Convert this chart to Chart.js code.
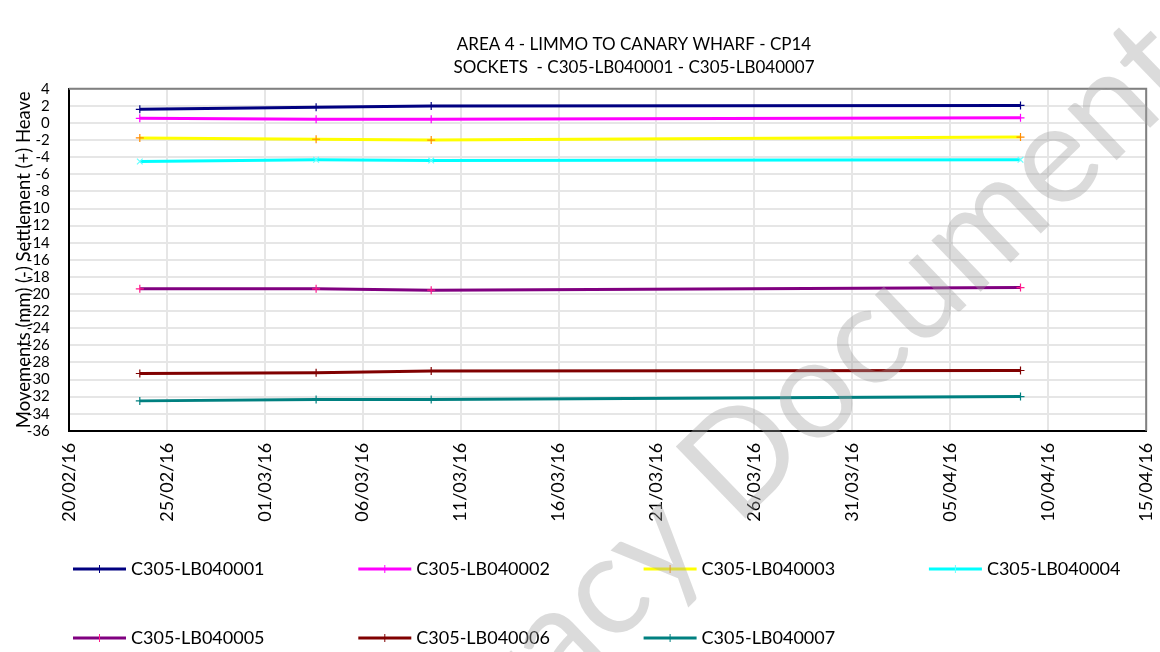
<!DOCTYPE html>
<html>
<head>
<meta charset="utf-8">
<script src="https://cdn.jsdelivr.net/npm/chart.js@4.4.1/dist/chart.umd.min.js"></script>
<style>
  body { margin: 0; background: #fff; }
  #wrap { width: 1160px; height: 652px; position: relative; }
</style>
</head>
<body>
<div id="wrap"><canvas id="settlement-chart"></canvas></div>
<script>
const titleLines = ["AREA 4 - LIMMO TO CANARY WHARF - CP14", "SOCKETS  - C305-LB040001 - C305-LB040007"];
const yAxisTitle = "Movements (mm) (-) Settlement (+) Heave";

// survey dates (UTC)
const startDate = "2016-02-20T00:00Z";
const surveyDates = ["2016-02-23T15:00Z", "2016-03-03T15:00Z", "2016-03-09T12:00Z", "2016-04-08T14:00Z"];

const seriesNames = ["C305-LB040001", "C305-LB040002", "C305-LB040003", "C305-LB040004",
  "C305-LB040005", "C305-LB040006", "C305-LB040007"];

const lb040001 = [1.6, 1.85, 2.0, 2.05];
const lb040002 = [0.55, 0.45, 0.45, 0.6];
const lb040003 = [-1.75, -1.9, -2.0, -1.65];
const lb040004 = [-4.5, -4.3, -4.4, -4.3];
const lb040005 = [-19.4, -19.4, -19.55, -19.25];
const lb040006 = [-29.3, -29.2, -29.0, -28.95];
const lb040007 = [-32.5, -32.35, -32.35, -32.0];

const lineColors = ["#000080", "#ff00ff", "#ffff00", "#00ffff", "#800080", "#800000", "#008080"];
const markerColors = ["#000080", "#ff00ff", "#ff8c00", "#66ffff", "#ff1a8c", "#800000", "#008080"];

const FONT = "Lato, 'Open Sans', 'Liberation Sans', sans-serif";
const DAY = 86400000;
const t0 = Date.parse(startDate);
const dayNums = surveyDates.map(d => (Date.parse(d) - t0) / DAY);

function fmtDay(v) {
  const d = new Date(t0 + v * DAY);
  const dd = String(d.getUTCDate()).padStart(2, "0");
  const mm = String(d.getUTCMonth() + 1).padStart(2, "0");
  const yy = String(d.getUTCFullYear()).slice(2);
  return dd + "/" + mm + "/" + yy;
}

const allValues = [lb040001, lb040002, lb040003, lb040004, lb040005, lb040006, lb040007];

const datasets = allValues.map((vals, i) => ({
  label: seriesNames[i],
  data: vals.map((v, j) => ({ x: dayNums[j], y: v })),
  borderColor: lineColors[i],
  backgroundColor: lineColors[i],
  pointBorderColor: markerColors[i],
  pointStyle: i === 3 ? "crossRot" : "cross",
  pointRadius: 4,
  pointBorderWidth: 1.2,
  borderWidth: 3,
  tension: 0,
}));

// two line title, centred a bit right of the canvas middle like the original
const titleBlock = {
  id: "titleBlock",
  afterDraw(chart) {
    const ctx = chart.ctx;
    ctx.save();
    ctx.font = "17px " + FONT;
    ctx.fillStyle = "#000";
    ctx.textAlign = "center";
    ctx.textBaseline = "middle";
    ctx.fillText(titleLines[0], 634, 45);
    ctx.fillText(titleLines[1], 634, 68);
    ctx.restore();
  },
};

// top and right frame lines
const framePlugin = {
  id: "frame",
  beforeDatasetsDraw(chart) {
    const { ctx, chartArea: a } = chart;
    ctx.save();
    ctx.strokeStyle = "#808080";
    ctx.lineWidth = 2;
    ctx.beginPath();
    ctx.moveTo(a.left, a.top);
    ctx.lineTo(a.right, a.top);
    ctx.lineTo(a.right, a.bottom);
    ctx.stroke();
    ctx.restore();
  },
};

// legend in fixed columns, like the original
const gridLegend = {
  id: "gridLegend",
  afterDraw(chart) {
    const ctx = chart.ctx;
    ctx.save();
    ctx.font = "18px " + FONT;
    ctx.textBaseline = "middle";
    chart.data.datasets.forEach((ds, i) => {
      const x = 73 + (i % 4) * 285.3;
      const y = i < 4 ? 569 : 638;
      ctx.strokeStyle = ds.borderColor;
      ctx.lineWidth = 3;
      ctx.beginPath();
      ctx.moveTo(x, y);
      ctx.lineTo(x + 53, y);
      ctx.stroke();
      ctx.strokeStyle = ds.pointBorderColor;
      ctx.lineWidth = 1;
      ctx.beginPath();
      ctx.moveTo(x + 26.5, y - 4);
      ctx.lineTo(x + 26.5, y + 4);
      ctx.stroke();
      ctx.fillStyle = "#000";
      ctx.fillText(ds.label, x + 58, y);
    });
    ctx.restore();
  },
};

// "Legacy Document" watermark, anchored at the left edge of the "D"
const watermark = {
  id: "watermark",
  afterDraw(chart) {
    const ctx = chart.ctx;
    ctx.save();
    ctx.translate(705, 495);
    ctx.rotate(-44 * Math.PI / 180);
    ctx.font = "140px " + FONT;
    ctx.fillStyle = "rgba(160,160,160,0.38)";
    ctx.textBaseline = "middle";
    const lead = ctx.measureText("Legacy ").width;
    ctx.fillText("Legacy Document", -lead, 0);
    ctx.restore();
  },
};

new Chart(document.getElementById("settlement-chart"), {
  type: "line",
  data: { datasets },
  options: {
    responsive: true,
    maintainAspectRatio: false,
    animation: false,
    layout: { padding: { left: 0, right: 13.8, top: 88.8, bottom: 129.2 } },
    plugins: {
      legend: { display: false },
      tooltip: { enabled: false },
      title: { display: false },
    },
    scales: {
      x: {
        type: "linear",
        min: 0,
        max: 55,
        afterFit(scale) {
          scale.height = 92;
          scale.paddingLeft = 0;
          scale.paddingRight = 0;
        },
        grid: { color: "#e6e6e6", lineWidth: 2, drawTicks: false },
        border: { color: "#000", width: 2 },
        ticks: {
          stepSize: 5,
          autoSkip: false,
          maxRotation: 90,
          minRotation: 90,
          padding: 12,
          color: "#000",
          font: { family: FONT, size: 18 },
          callback: v => fmtDay(v),
        },
      },
      y: {
        min: -36,
        max: 4,
        afterFit(scale) {
          scale.width = 68.8;
          scale.paddingTop = 0;
          scale.paddingBottom = 0;
        },
        grid: { color: "#e6e6e6", lineWidth: 2, drawTicks: false },
        border: { color: "#000", width: 2 },
        title: {
          display: true,
          text: yAxisTitle,
          color: "#000",
          font: { family: FONT, size: 18.5 },
          padding: { top: 13, bottom: 0 },
        },
        ticks: {
          stepSize: 2,
          autoSkip: false,
          padding: 19,
          color: "#000",
          font: { family: FONT, size: 15 },
        },
      },
    },
  },
  plugins: [framePlugin, titleBlock, gridLegend, watermark],
});
</script>
</body>
</html>
